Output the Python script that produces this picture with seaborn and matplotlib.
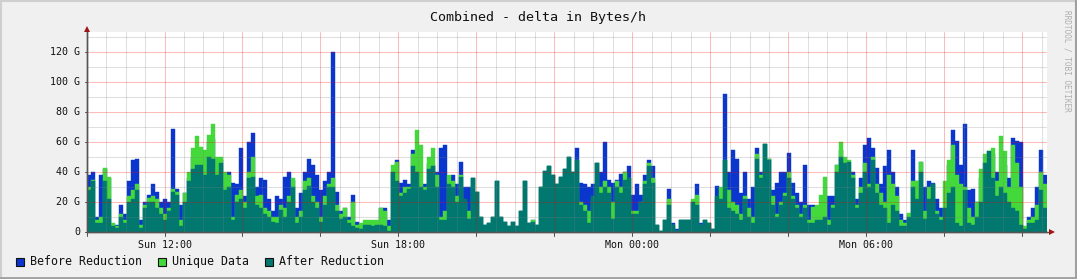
import numpy as np
import pandas as pd
import matplotlib
matplotlib.use("Agg")
import matplotlib.pyplot as plt
from matplotlib.patches import Rectangle
from matplotlib.lines import Line2D
from matplotlib.ticker import MultipleLocator, FuncFormatter
import seaborn as sns

# ---------------- data (G bytes per hour, one value per ~6 min step) ----------------
before_reduction = [
    38, 40, 10, 38, 42, 36, 5, 5, 18, 12, 34, 48, 49, 8, 20, 25, 32, 27, 20, 22,
    20, 69, 29, 18, 26, 36, 50, 55, 52, 48, 60, 62, 45, 48, 38, 40, 33, 32, 56, 24,
    60, 66, 30, 36, 35, 22, 14, 24, 22, 37, 40, 35, 16, 26, 40, 49, 45, 38, 28, 34,
    40, 120, 27, 14, 16, 10, 25, 7, 2, 6, 6, 5, 7, 16, 16, 8, 40, 48, 33, 35,
    32, 55, 40, 30, 32, 46, 45, 40, 56, 58, 36, 38, 32, 47, 30, 30, 36, 27, 10, 5,
    6, 10, 34, 10, 7, 4, 7, 4, 14, 34, 6, 8, 5, 30, 41, 44, 38, 32, 37, 42,
    50, 40, 56, 33, 32, 30, 32, 46, 40, 60, 35, 33, 35, 39, 40, 44, 25, 32, 25, 38,
    48, 44, 5, 1, 8, 29, 6, 2, 8, 8, 8, 20, 32, 6, 8, 6, 2, 31, 26, 92,
    40, 55, 49, 26, 40, 22, 30, 56, 40, 59, 49, 28, 33, 40, 40, 53, 33, 26, 20, 45,
    18, 18, 16, 14, 10, 24, 24, 45, 55, 48, 40, 40, 22, 36, 58, 63, 56, 43, 32, 44,
    55, 40, 30, 12, 8, 12, 55, 34, 47, 30, 34, 33, 22, 16, 16, 45, 68, 61, 45, 72,
    28, 29, 20, 36, 40, 48, 52, 40, 36, 45, 36, 63, 61, 60, 3, 10, 16, 30, 55, 38,
]
unique_data = [
    30, 35, 8, 10, 43, 37, 6, 4, 12, 8, 24, 28, 32, 5, 18, 23, 24, 22, 16, 12,
    16, 29, 27, 8, 26, 40, 56, 64, 57, 55, 65, 72, 50, 50, 40, 38, 10, 25, 28, 20,
    40, 50, 24, 25, 16, 14, 10, 10, 18, 16, 24, 36, 10, 14, 34, 36, 24, 20, 10, 24,
    32, 36, 18, 12, 16, 8, 20, 5, 6, 8, 8, 8, 8, 16, 14, 4, 45, 47, 26, 30,
    30, 52, 68, 58, 30, 50, 56, 38, 10, 14, 38, 34, 24, 38, 20, 14, 36, 27, 10, 5,
    6, 10, 34, 10, 7, 4, 7, 4, 14, 34, 6, 8, 5, 30, 40, 44, 38, 32, 37, 42,
    50, 40, 48, 20, 18, 14, 22, 46, 30, 34, 30, 20, 34, 30, 40, 36, 14, 14, 20, 34,
    46, 36, 5, 1, 8, 22, 5, 1, 8, 8, 8, 22, 25, 5, 8, 6, 2, 22, 30, 48,
    28, 20, 18, 12, 24, 16, 10, 52, 38, 59, 49, 24, 12, 20, 26, 40, 24, 18, 12, 18,
    8, 17, 18, 25, 37, 8, 18, 45, 60, 50, 48, 38, 18, 30, 46, 32, 50, 32, 26, 20,
    38, 32, 24, 8, 6, 13, 34, 34, 47, 14, 30, 32, 14, 10, 34, 48, 58, 38, 32, 30,
    16, 10, 20, 42, 52, 54, 56, 34, 64, 54, 30, 58, 46, 30, 4, 8, 10, 18, 40, 32,
]
after_reduction = [
    28, 34, 6, 6, 34, 22, 4, 3, 10, 6, 20, 22, 28, 3, 16, 20, 20, 16, 12, 8,
    14, 27, 25, 4, 20, 34, 42, 45, 45, 38, 50, 49, 38, 46, 28, 30, 8, 20, 22, 16,
    36, 37, 18, 16, 12, 10, 7, 6, 15, 10, 20, 30, 6, 10, 28, 31, 20, 16, 7, 18,
    30, 30, 14, 9, 10, 6, 4, 3, 2, 5, 5, 4, 5, 5, 4, 1, 40, 34, 24, 26,
    29, 44, 40, 30, 28, 42, 44, 30, 8, 8, 32, 30, 20, 37, 22, 9, 36, 27, 10, 5,
    6, 10, 34, 10, 7, 4, 7, 4, 14, 34, 6, 7, 5, 30, 41, 44, 38, 32, 37, 42,
    50, 40, 48, 18, 14, 6, 24, 46, 26, 30, 26, 9, 30, 26, 35, 36, 12, 12, 20, 32,
    44, 33, 5, 1, 8, 18, 5, 1, 8, 8, 8, 20, 18, 5, 8, 6, 2, 24, 22, 48,
    16, 14, 12, 8, 22, 10, 6, 49, 36, 59, 48, 18, 10, 18, 24, 36, 22, 16, 10, 16,
    6, 6, 8, 8, 10, 5, 16, 40, 50, 46, 47, 36, 16, 26, 40, 30, 48, 26, 18, 16,
    6, 18, 14, 4, 4, 10, 30, 22, 40, 9, 22, 32, 12, 8, 16, 26, 30, 6, 4, 28,
    6, 5, 10, 20, 46, 54, 36, 24, 30, 26, 20, 16, 14, 5, 2, 6, 6, 8, 28, 16,
]
series_names = ["Before Reduction", "Unique Data", "After Reduction"]
series_colors = ["#0B36CE", "#44D93A", "#00776F"]
y_ticks = [0, 20, 40, 60, 80, 100, 120]
y_tick_labels = ["0", "20 G", "40 G", "60 G", "80 G", "100 G", "120 G"]
x_tick_hours = [12, 18, 24, 30]
x_tick_labels = ["Sun 12:00", "Sun 18:00", "Mon 00:00", "Mon 06:00"]
title = "Combined - delta in Bytes/h"
watermark = "RRDTOOL / TOBI OETIKER"

# ---------------- layout ----------------
W, H = 1077, 279
sns.set_style("white")
plt.rcParams["font.family"] = ["DejaVu Sans Mono", "DejaVu Sans"]

fig = plt.figure(figsize=(W / 100, H / 100), dpi=100, facecolor="#F0F0F0")
ax = fig.add_axes([87 / W, (H - 232) / H, 960 / W, (232 - 32.5) / H])
ax.set_facecolor("white")

px_per_hour = 39.0
t0 = 12 - (164.5 - 87) / px_per_hour
n = len(before_reduction)
bw = 4 / px_per_hour
centers = t0 + bw * (np.arange(n) + 0.5)

for vals, col in zip([before_reduction, unique_data, after_reduction], series_colors):
    df = pd.DataFrame({"t": centers, "v": np.asarray(vals, dtype=float)})
    sns.barplot(data=df, x="t", y="v", native_scale=True, width=1.0, color=col,
                saturation=1, linewidth=0.3, edgecolor=col, errorbar=None, ax=ax)

t_end = t0 + 960 / px_per_hour
ymax = (232 - 32.5) / 1.5
ax.set_xlim(t0, t_end)
ax.set_ylim(0, ymax)
ax.set_xlabel("")
ax.set_ylabel("")


def xfrac(h):
    return (h - t0) / (t_end - t0)


# grid (drawn over the data like rrdtool)
grid_red = (1.0, 0.0, 0.0, 0.27)
grid_gray = (0.5, 0.5, 0.5, 0.25)
for h in np.arange(10.5, t_end, 0.5):
    is_major = abs(h / 2 - round(h / 2)) < 1e-6
    col = grid_red if is_major else grid_gray
    ax.add_line(Line2D([xfrac(h), xfrac(h)], [0, 1], transform=ax.transAxes,
                       color=col, lw=0.75, zorder=3))
    if is_major:
        ax.add_line(Line2D([xfrac(h), xfrac(h)], [-3.5 / 199.5, 0],
                           transform=ax.transAxes, color="#555555", lw=0.75,
                           zorder=5, clip_on=False))
ax.add_line(Line2D([0, 0], [-3.5 / 199.5, 0], transform=ax.transAxes,
                   color="#555555", lw=0.75, zorder=5, clip_on=False))
for g in np.arange(10, ymax, 10):
    col = grid_red if int(g) % 20 == 0 else grid_gray
    ax.add_line(Line2D([0, 1], [g / ymax, g / ymax], transform=ax.transAxes,
                       color=col, lw=0.75, zorder=3))

# tick labels as text, placed via the axes scale
for h, lab in zip(x_tick_hours, x_tick_labels):
    ax.text(xfrac(h), -7.5 / 199.5, lab, transform=ax.transAxes, ha="center",
            va="top", fontsize=7.2, color="#111111")
for v, lab in zip(y_ticks, y_tick_labels):
    ax.text(-7 / 960, v / ymax, lab, transform=ax.transAxes, ha="right",
            va="center", fontsize=7.2, color="#111111")
    ax.add_line(Line2D([-2.5 / 960, 0], [v / ymax, v / ymax], transform=ax.transAxes,
                       color="#555555", lw=0.75, zorder=5, clip_on=False))
ax.set_xticks([])
ax.set_yticks([])

for s in ["top", "right"]:
    ax.spines[s].set_visible(False)
for s in ["left", "bottom"]:
    ax.spines[s].set_color("#555555")
    ax.spines[s].set_linewidth(1.0)
    ax.spines[s].set_zorder(5)

# axis extension + arrows
ax.add_line(Line2D([0, (1050 - 87) / 960], [0, 0], transform=ax.transAxes,
                   color="#555555", lw=1.0, clip_on=False, zorder=5))
ax.add_line(Line2D([(1052 - 87) / 960], [0], transform=ax.transAxes, marker=">",
                   color="#A01515", ms=4, mew=0, clip_on=False, zorder=6))
ax.add_line(Line2D([0, 0], [0, (232 - 31) / 199.5], transform=ax.transAxes,
                   color="#555555", lw=1.0, clip_on=False, zorder=5))
ax.add_line(Line2D([0], [(232 - 29.5) / 199.5], transform=ax.transAxes, marker="^",
                   color="#A01515", ms=4, mew=0, clip_on=False, zorder=6))

# title and watermark
fig.text(538 / W, 1 - 17 / H, title, ha="center", va="center", fontsize=9.6,
         color="#111111")
fig.text(1067 / W, 1 - 61 / H, watermark, ha="center", va="center", fontsize=5.6,
         rotation=270, color="#AFAFAF")

# legend
legend_x = [16, 158, 265]
for lx, name, col in zip(legend_x, series_names, series_colors):
    fig.add_artist(Rectangle((lx / W, 1 - 266 / H), 8 / W, 8 / H,
                             transform=fig.transFigure, facecolor=col,
                             edgecolor="#111111", linewidth=0.8))
    fig.text((lx + 14) / W, 1 - 261.5 / H, name, ha="left", va="center",
             fontsize=8.4, color="#111111")

# outer frame
fig.add_artist(Line2D([0, 1], [1 - 0.5 / H, 1 - 0.5 / H], transform=fig.transFigure,
                      color="#CFCFCF", lw=1.5))
fig.add_artist(Line2D([0.5 / W, 0.5 / W], [0, 1], transform=fig.transFigure,
                      color="#CFCFCF", lw=1.5))
fig.add_artist(Line2D([1 - 1 / W, 1 - 1 / W], [0, 1], transform=fig.transFigure,
                      color="#A0A0A0", lw=1.5))
fig.add_artist(Line2D([0, 1], [1.5 / H, 1.5 / H], transform=fig.transFigure,
                      color="#A0A0A0", lw=2.0))

fig.savefig("out.png", dpi=100, facecolor=fig.get_facecolor())
